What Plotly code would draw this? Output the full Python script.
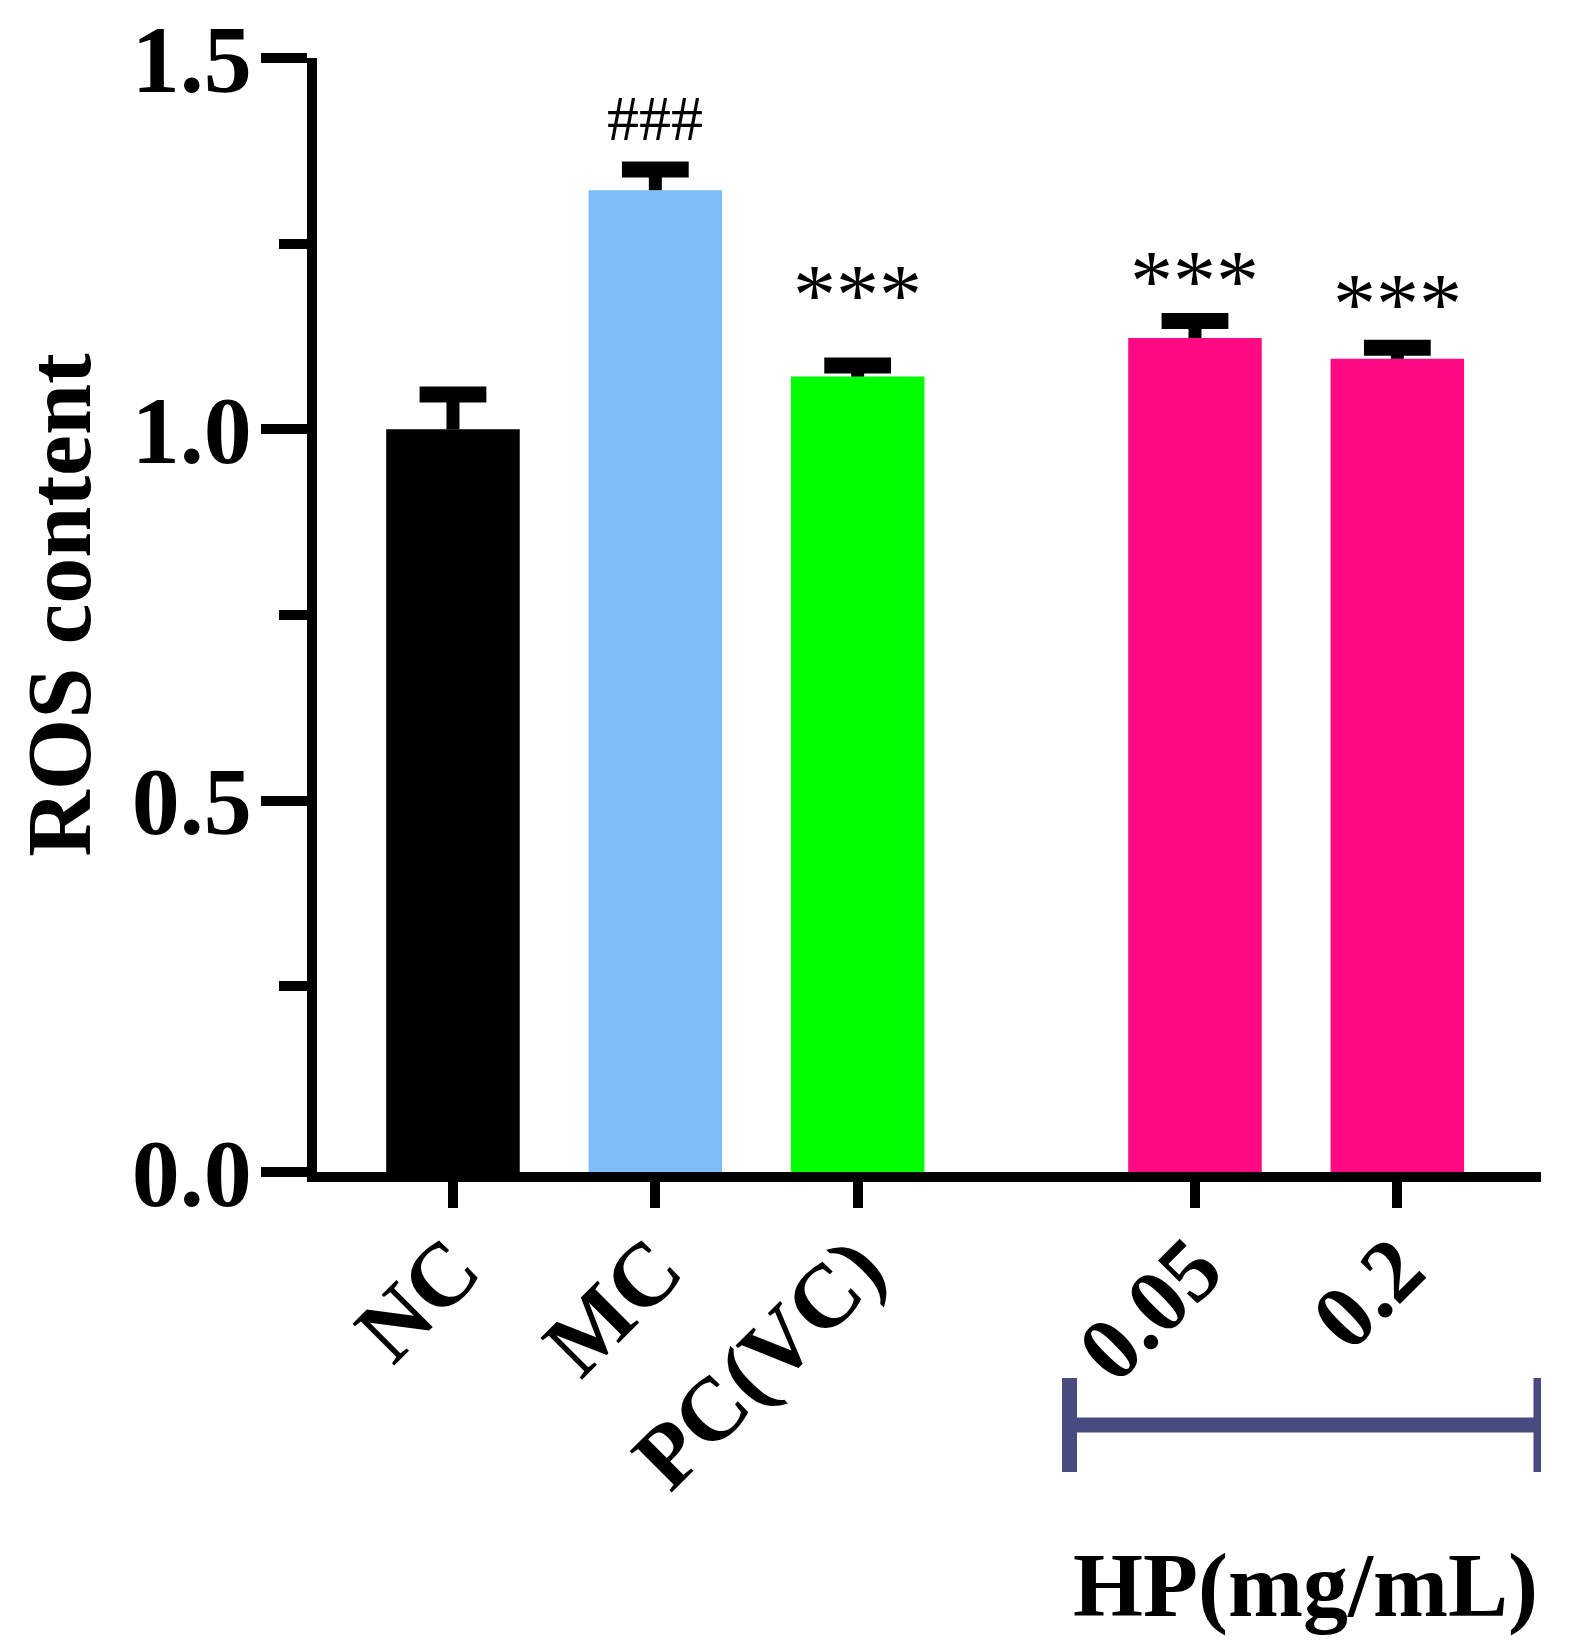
import plotly.graph_objects as go

# data
groups = ['NC', 'MC', 'PC(VC)', '0.05', '0.2']
ros_mean = [1.000, 1.322, 1.071, 1.123, 1.095]
ros_sem = [0.047, 0.028, 0.015, 0.023, 0.015]
sig_marks = ['', '###', '***', '***', '***']
bar_colors = ['#000000', '#7bbef9', '#00ff00', '#ff0a85', '#ff0a85']

FONT = 'Liberation Serif'
HP_GAP = 0.667  # extra space before the HP dose group
CAP = 0.165     # half width of error caps, x units

x_pos = [i + (HP_GAP if i >= 3 else 0) for i in range(len(groups))]
x_min = x_pos[0] - 0.672
x_max = x_pos[-1] + 0.71

fig = go.Figure()
fig.add_trace(go.Bar(
    x=x_pos,
    y=ros_mean,
    width=0.66,
    marker=dict(color=bar_colors, line=dict(width=0)),
    hoverinfo='skip',
))

# upper-only error bars (stem + cap), GraphPad style
stem_x, stem_y, cap_x, cap_y = [], [], [], []
for xp, m, e in zip(x_pos, ros_mean, ros_sem):
    stem_x += [xp, xp, None]
    stem_y += [m, m + e, None]
    cap_x += [xp - CAP, xp + CAP, None]
    cap_y += [m + e, m + e, None]
fig.add_trace(go.Scatter(x=stem_x, y=stem_y, mode='lines',
                         line=dict(color='#000000', width=13), hoverinfo='skip'))
fig.add_trace(go.Scatter(x=cap_x, y=cap_y, mode='lines',
                         line=dict(color='#000000', width=16), hoverinfo='skip'))

# significance marks above the error bars
mark_shift = [0, 51, 70, 40, 44]
for xp, m, e, txt, sh in zip(x_pos, ros_mean, ros_sem, sig_marks, mark_shift):
    if not txt:
        continue
    is_hash = txt.startswith('#')
    fig.add_annotation(
        x=xp, y=m + e, xref='x', yref='y',
        text=txt, showarrow=False,
        yanchor='middle', yshift=sh,
        font=dict(family=FONT, size=64 if is_hash else 86, color='#000000'),
    )

# bracket under the HP doses
br_left = x_pos[3] - 0.62
br_right = x_max
br_color = '#474b7f'
fig.add_shape(type='line', xref='x', yref='paper', x0=br_left, x1=br_right,
              y0=-0.2271, y1=-0.2271, line=dict(color=br_color, width=15))
for bx in (br_left, br_right):
    fig.add_shape(type='line', xref='x', yref='paper', x0=bx, x1=bx,
                  y0=-0.1849, y1=-0.2693, line=dict(color=br_color, width=15))

fig.add_annotation(
    x=(br_left + br_right) / 2, y=-0.3716, xref='x', yref='paper',
    text='<b>HP(mg/mL)</b>', showarrow=False, yanchor='middle',
    font=dict(family=FONT, size=90, color='#000000'),
)

fig.add_annotation(
    x=-0.211, y=0.509, xref='paper', yref='paper',
    text='<b>ROS content</b>', showarrow=False, textangle=-90,
    xanchor='center', yanchor='middle',
    font=dict(family=FONT, size=92, color='#000000'),
)

fig.update_layout(
    width=1571,
    height=1644,
    showlegend=False,
    plot_bgcolor='white',
    paper_bgcolor='white',
    margin=dict(l=309, r=38, t=50, b=480, pad=0),
    font=dict(family=FONT, color='#000000'),
    xaxis=dict(
        range=[x_min, x_max],
        tickvals=x_pos,
        ticktext=['<b>%s</b>' % g for g in groups],
        tickangle=-45,
        ticks='outside', ticklen=26, tickwidth=10, tickcolor='#000000',
        ticklabelstandoff=-28,
        ticklabeloverflow='allow',
        showline=True, linewidth=10, linecolor='#000000',
        showgrid=False, zeroline=False, automargin=False,
        tickfont=dict(family=FONT, size=90, color='#000000'),
    ),
    yaxis=dict(
        range=[0, 1.5],
        tickvals=[0, 0.5, 1.0, 1.5],
        ticktext=['<b>0.0</b>', '<b>0.5</b>', '<b>1.0</b>', '<b>1.5</b>'],
        ticks='outside', ticklen=46, tickwidth=10, tickcolor='#000000',
        ticklabelstandoff=-10,
        ticklabeloverflow='allow',
        minor=dict(tickvals=[0.25, 0.75, 1.25], ticks='outside', ticklen=28,
                   tickwidth=10, tickcolor='#000000', showgrid=False),
        showline=True, linewidth=10, linecolor='#000000',
        showgrid=False, zeroline=False, automargin=False,
        tickfont=dict(family=FONT, size=96, color='#000000'),
    ),
)

fig.write_html("out.html")
